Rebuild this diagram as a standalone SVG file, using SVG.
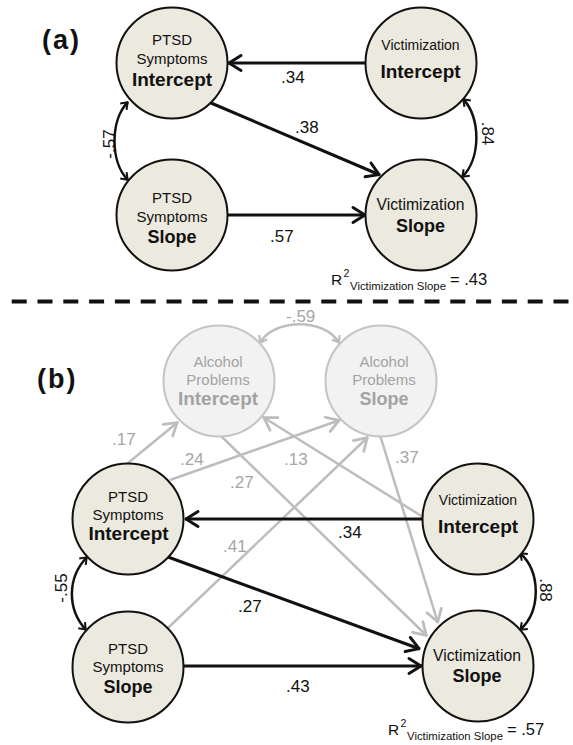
<svg xmlns="http://www.w3.org/2000/svg" width="573" height="745" viewBox="0 0 573 745">
<style>
text{font-family:"Liberation Sans",Arial,sans-serif;fill:#111}
.node circle{fill:#ece9df;stroke:#111;stroke-width:2}
.alc circle{fill:#f2f2f2;stroke:#c4c4c4;stroke-width:2}
.alc text{fill:#a3a3a3}
.r{font-size:15px;text-anchor:middle}
.v1{font-size:14px;text-anchor:middle}
.v2{font-size:15.7px;text-anchor:middle}
.bi{font-size:19px;font-weight:bold;text-anchor:middle}
.bs{font-size:18px;font-weight:bold;text-anchor:middle}
.lab{font-size:17px}
.labg{font-size:17px;fill:#a6a6a6}
.panel{font-size:27px;font-weight:bold;letter-spacing:2px}
.blk{stroke:#111;stroke-width:3;fill:none;marker-end:url(#hb)}
.gry{stroke:#bdbdbd;stroke-width:2.5;fill:none;marker-end:url(#hg)}
.cb{stroke:#111;stroke-width:2.5;fill:none;marker-start:url(#sb);marker-end:url(#sb)}
.cg{stroke:#bdbdbd;stroke-width:2.5;fill:none;marker-start:url(#sg);marker-end:url(#sg)}
.rr{font-size:15.5px}
.sup{font-size:10.5px}
.sub{font-size:11.6px}
.eq{font-size:16.5px}
</style>
<defs>
<marker id="hb" viewBox="-16 -10 20 20" markerWidth="20" markerHeight="20" refX="1" refY="0" orient="auto" markerUnits="userSpaceOnUse">
<path d="M-12,-7.5 L0,0 L-12,7.5" fill="none" stroke="#111" stroke-width="3" stroke-linejoin="round" stroke-linecap="round"/>
</marker>
<marker id="hg" viewBox="-16 -10 20 20" markerWidth="20" markerHeight="20" refX="1" refY="0" orient="auto" markerUnits="userSpaceOnUse">
<path d="M-12,-7.5 L0,0 L-12,7.5" fill="none" stroke="#bdbdbd" stroke-width="2.8" stroke-linejoin="round" stroke-linecap="round"/>
</marker>
<marker id="sb" viewBox="-10 -8 12 16" markerWidth="12" markerHeight="16" refX="0.5" refY="0" orient="auto-start-reverse" markerUnits="userSpaceOnUse">
<path d="M-6,-4.5 L0,0 L-6,4.5" fill="none" stroke="#111" stroke-width="2" stroke-linejoin="round"/>
</marker>
<marker id="sg" viewBox="-10 -8 12 16" markerWidth="12" markerHeight="16" refX="0.5" refY="0" orient="auto-start-reverse" markerUnits="userSpaceOnUse">
<path d="M-6,-4.5 L0,0 L-6,4.5" fill="none" stroke="#bdbdbd" stroke-width="2.2" stroke-linejoin="round"/>
</marker>
</defs>
<rect width="573" height="745" fill="#fff"/>

<g id="panel-labels">
<text class="panel" x="42" y="49">(a)</text>
<text class="panel" x="37" y="388">(b)</text>
</g>

<line id="divider" x1="11.7" y1="301.5" x2="573" y2="301.5" stroke="#111" stroke-width="4" stroke-dasharray="15 10.8"/>

<g id="connectors">
<!-- panel a -->
<line class="blk" x1="366" y1="63" x2="228" y2="63"/>
<line class="blk" x1="211" y1="103" x2="380" y2="175"/>
<line class="blk" x1="227" y1="215" x2="366" y2="215"/>
<path class="cb" d="M128,102 C110,120 110,162 128,180"/>
<path class="cb" d="M463,99 C481,117 481,159 462,177"/>
<!-- panel b gray -->
<path class="cg" d="M260,343 C274,318 325,318 339,343"/>
<line class="gry" x1="128" y1="463" x2="178" y2="422"/>
<line class="gry" x1="170" y1="480" x2="340" y2="420"/>
<line class="gry" x1="168" y1="628" x2="368" y2="437"/>
<line class="gry" x1="423" y1="517" x2="263" y2="417"/>
<line class="gry" x1="221" y1="436" x2="427" y2="636"/>
<line class="gry" x1="380" y1="435" x2="438" y2="623"/>
<!-- panel b black -->
<line class="blk" x1="422" y1="519" x2="185" y2="519"/>
<line class="blk" x1="168" y1="557" x2="420" y2="649"/>
<line class="blk" x1="183" y1="666" x2="422" y2="666"/>
<path class="cb" d="M87,557 C67,578 67,609 86,630"/>
<path class="cb" d="M520,553 C541,572 541,611 520,630"/>
</g>

<g id="edge-labels">
<text class="lab" x="281" y="83">.34</text>
<text class="lab" x="295" y="133">.38</text>
<text class="lab" x="270" y="242">.57</text>
<text class="lab" text-anchor="middle" transform="translate(115,144) rotate(-90)">-.57</text>
<text class="lab" text-anchor="middle" transform="translate(482,133.5) rotate(90)">.84</text>

<text class="labg" x="286" y="322">-.59</text>
<text class="labg" x="112" y="445">.17</text>
<text class="labg" x="180" y="465">.24</text>
<text class="labg" x="284" y="465">.13</text>
<text class="labg" x="230" y="488">.27</text>
<text class="labg" x="395" y="463">.37</text>
<text class="labg" x="223" y="552">.41</text>

<text class="lab" x="338" y="538">.34</text>
<text class="lab" x="238" y="612">.27</text>
<text class="lab" x="286" y="692">.43</text>
<text class="lab" text-anchor="middle" transform="translate(67,588) rotate(-90)">-.55</text>
<text class="lab" text-anchor="middle" transform="translate(540,590) rotate(90)">.88</text>
</g>

<g id="a-ptsd-intercept" class="node">
<circle cx="172" cy="63" r="55.5"/>
<text class="r" x="172" y="45">PTSD</text>
<text class="r" x="172" y="64">Symptoms</text>
<text class="bi" x="172" y="86">Intercept</text>
</g>
<g id="a-vict-intercept" class="node">
<circle cx="421" cy="63" r="55.5"/>
<text class="v1" x="420.5" y="50">Victimization</text>
<text class="bi" x="420.5" y="78">Intercept</text>
</g>
<g id="a-ptsd-slope" class="node">
<circle cx="172" cy="215" r="55.5"/>
<text class="r" x="172" y="203">PTSD</text>
<text class="r" x="172" y="222">Symptoms</text>
<text class="bs" x="172" y="243">Slope</text>
</g>
<g id="a-vict-slope" class="node">
<circle cx="421" cy="215" r="55.5"/>
<text class="v2" x="420.5" y="210">Victimization</text>
<text class="bs" x="420.5" y="232">Slope</text>
</g>
<g id="a-r2">
<text class="rr" x="331" y="285">R</text>
<text class="sup" x="343.5" y="277">2</text>
<text class="sub" x="350" y="290" textLength="96" lengthAdjust="spacingAndGlyphs">Victimization Slope</text>
<text class="eq" x="450" y="285">= .43</text>
</g>

<g id="b-alc-intercept" class="alc">
<circle cx="219" cy="381" r="55.5"/>
<text class="r" x="218" y="367">Alcohol</text>
<text class="r" x="218" y="385">Problems</text>
<text class="bi" x="218" y="405">Intercept</text>
</g>
<g id="b-alc-slope" class="alc">
<circle cx="381" cy="381" r="55.5"/>
<text class="r" x="384" y="367">Alcohol</text>
<text class="r" x="384" y="385">Problems</text>
<text class="bs" x="384" y="405">Slope</text>
</g>
<g id="b-ptsd-intercept" class="node">
<circle cx="128" cy="519" r="55.5"/>
<text class="r" x="128" y="502">PTSD</text>
<text class="r" x="128" y="520">Symptoms</text>
<text class="bi" x="128.5" y="540">Intercept</text>
</g>
<g id="b-vict-intercept" class="node">
<circle cx="478" cy="519" r="55.5"/>
<text class="v1" x="478" y="505">Victimization</text>
<text class="bi" x="478" y="533">Intercept</text>
</g>
<g id="b-ptsd-slope" class="node">
<circle cx="128" cy="667" r="55.5"/>
<text class="r" x="128" y="654">PTSD</text>
<text class="r" x="128" y="672">Symptoms</text>
<text class="bs" x="128" y="693">Slope</text>
</g>
<g id="b-vict-slope" class="node">
<circle cx="478" cy="666" r="55.5"/>
<text class="v2" x="477" y="661">Victimization</text>
<text class="bs" x="477" y="682">Slope</text>
</g>
<g id="b-r2">
<text class="rr" x="388" y="735">R</text>
<text class="sup" x="400.5" y="727">2</text>
<text class="sub" x="407" y="740" textLength="96" lengthAdjust="spacingAndGlyphs">Victimization Slope</text>
<text class="eq" x="507" y="735">= .57</text>
</g>
</svg>
